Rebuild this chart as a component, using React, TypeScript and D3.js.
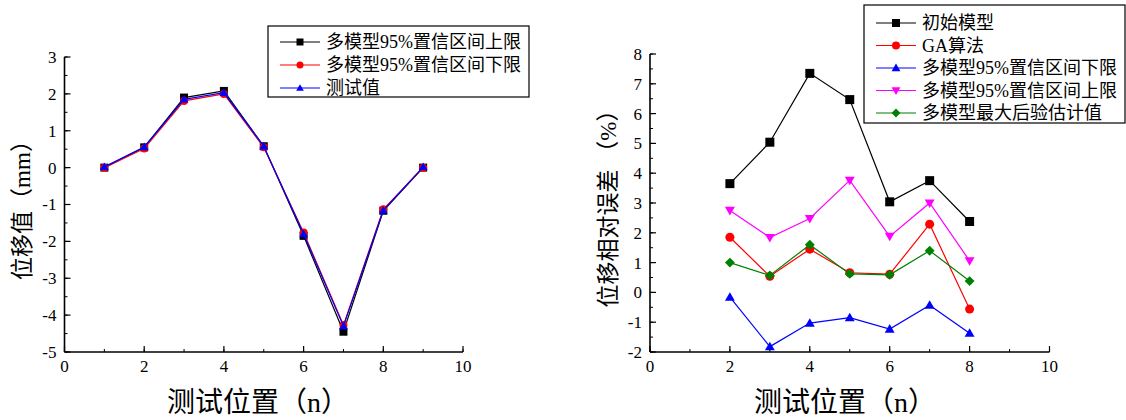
import React from 'react';
import * as d3 from 'd3';

// left panel: displacement (mm) at test positions 1..9
const posLeft = [1, 2, 3, 4, 5, 6, 7, 8, 9];
const upperLeft = [0, 0.55, 1.9, 2.08, 0.58, -1.85, -4.45, -1.17, 0];
const lowerLeft = [0, 0.52, 1.81, 2.0, 0.55, -1.76, -4.27, -1.13, 0];
const testLeft = [0.02, 0.56, 1.85, 2.03, 0.58, -1.8, -4.3, -1.16, 0.02];

// right panel: relative error (%) at test positions 2..8
const posRight = [2, 3, 4, 5, 6, 7, 8];
const initModel = [3.65, 5.04, 7.35, 6.47, 3.04, 3.75, 2.38];
const gaAlgo = [1.85, 0.54, 1.45, 0.66, 0.61, 2.29, -0.56];
const lowerRight = [-0.16, -1.82, -1.03, -0.85, -1.23, -0.43, -1.37];
const upperRight = [2.75, 1.84, 2.48, 3.76, 1.88, 3.0, 1.06];
const mapEstimate = [1.0, 0.57, 1.6, 0.62, 0.59, 1.4, 0.38];

const leftYTicks = [-5, -4, -3, -2, -1, 0, 1, 2, 3];
const rightYTicks = [-2, -1, 0, 1, 2, 3, 4, 5, 6, 7, 8];
const xTicks = [0, 2, 4, 6, 8, 10];

const FONT = '"Liberation Serif", "Times New Roman", "Noto Sans CJK SC", serif';

type Marker = 'square' | 'circle' | 'up' | 'down' | 'diamond';

function MarkerShape({ kind, x, y, size, color }: { kind: Marker; x: number; y: number; size: number; color: string }) {
  const h = size / 2;
  if (kind === 'square') return <rect x={x - h} y={y - h} width={size} height={size} fill={color} />;
  if (kind === 'circle') return <circle cx={x} cy={y} r={h} fill={color} />;
  if (kind === 'up') return <path d={`M${x},${y - h * 1.1}L${x + h * 1.1},${y + h * 0.8}L${x - h * 1.1},${y + h * 0.8}Z`} fill={color} />;
  if (kind === 'down') return <path d={`M${x},${y + h * 1.1}L${x + h * 1.1},${y - h * 0.8}L${x - h * 1.1},${y - h * 0.8}Z`} fill={color} />;
  return <path d={`M${x},${y - h * 1.1}L${x + h * 1.1},${y}L${x},${y + h * 1.1}L${x - h * 1.1},${y}Z`} fill={color} />;
}

type Series = { name: string; xs: number[]; ys: number[]; color: string; marker: Marker };

function Panel({ x0, x1, y0, y1, yDomain, yTicks, series, markerSize, yTitle, yTitleX, xTitleX, legend }: any) {
  const x = d3.scaleLinear().domain([0, 10]).range([x0, x1]);
  const y = d3.scaleLinear().domain(yDomain).range([y1, y0]);
  const minorY = d3.range(yDomain[0], yDomain[1] + 0.001, 0.5);
  const minorX = d3.range(0, 10.001, 1);
  const line = d3.line<[number, number]>().x(d => x(d[0])).y(d => y(d[1]));
  const yMid = (y0 + y1) / 2;
  return (
    <g fontFamily={FONT}>
      {(series as Series[]).map(s => (
        <g key={s.name}>
          <path d={line(s.xs.map((v, i) => [v, s.ys[i]]) as [number, number][]) || ''} fill="none" stroke={s.color} strokeWidth={1.2} />
          {s.xs.map((v, i) => (
            <MarkerShape key={i} kind={s.marker} x={x(v)} y={y(s.ys[i])} size={markerSize} color={s.color} />
          ))}
        </g>
      ))}
      {/* axes */}
      <line x1={x0} x2={x1} y1={y1} y2={y1} stroke="#000" strokeWidth={1.6} />
      <line x1={x0} x2={x0} y1={y0} y2={y1} stroke="#000" strokeWidth={1.6} />
      {minorY.map(v => (
        <line key={'my' + v} x1={x0} x2={x0 + 3} y1={y(v)} y2={y(v)} stroke="#000" strokeWidth={1} />
      ))}
      {yTicks.map((v: number) => (
        <g key={'y' + v}>
          <line x1={x0} x2={x0 + 6} y1={y(v)} y2={y(v)} stroke="#000" strokeWidth={1.2} />
          <text x={x0 - 8} y={y(v)} dy="0.35em" textAnchor="end" fontSize={17}>{v}</text>
        </g>
      ))}
      {minorX.map(v => (
        <line key={'mx' + v} x1={x(v)} x2={x(v)} y1={y1} y2={y1 - 3} stroke="#000" strokeWidth={1} />
      ))}
      {xTicks.map(v => (
        <g key={'x' + v}>
          <line x1={x(v)} x2={x(v)} y1={y1} y2={y1 - 6} stroke="#000" strokeWidth={1.2} />
          <text x={x(v)} y={y1 + 20} textAnchor="middle" fontSize={17}>{v}</text>
        </g>
      ))}
      <text x={xTitleX} y={412} textAnchor="middle" fontSize={28}>测试位置（n）</text>
      <text transform={`translate(${yTitleX},${yMid}) rotate(-90)`} textAnchor="middle" dy="0.35em" fontSize={23}>{yTitle}</text>
      {/* legend */}
      <rect x={legend.x} y={legend.y} width={legend.w} height={legend.h} fill="#fff" stroke="#000" strokeWidth={1.2} />
      {(legend.items as Series[]).map((s, i) => {
        const ly = legend.y + legend.first + i * legend.step;
        return (
          <g key={'l' + i}>
            <line x1={legend.x + 12} x2={legend.x + 52} y1={ly} y2={ly} stroke={s.color} strokeWidth={1.2} />
            <MarkerShape kind={s.marker} x={legend.x + 32} y={ly} size={legend.marker} color={s.color} />
            <text x={legend.x + 58} y={ly} dy="0.36em" fontSize={18}>{s.name}</text>
          </g>
        );
      })}
    </g>
  );
}

export default function App() {
  const leftSeries: Series[] = [
    { name: '多模型95%置信区间上限', xs: posLeft, ys: upperLeft, color: '#000000', marker: 'square' },
    { name: '多模型95%置信区间下限', xs: posLeft, ys: lowerLeft, color: '#ff0000', marker: 'circle' },
    { name: '测试值', xs: posLeft, ys: testLeft, color: '#0000ff', marker: 'up' },
  ];
  const rightSeries: Series[] = [
    { name: '初始模型', xs: posRight, ys: initModel, color: '#000000', marker: 'square' },
    { name: 'GA算法', xs: posRight, ys: gaAlgo, color: '#ff0000', marker: 'circle' },
    { name: '多模型95%置信区间下限', xs: posRight, ys: lowerRight, color: '#0000ff', marker: 'up' },
    { name: '多模型95%置信区间上限', xs: posRight, ys: upperRight, color: '#ff00ff', marker: 'down' },
    { name: '多模型最大后验估计值', xs: posRight, ys: mapEstimate, color: '#008000', marker: 'diamond' },
  ];
  return (
    <svg width={1126} height={420} style={{ position: 'absolute', left: 0, top: 0, background: '#fff' }}>
      <Panel x0={64.5} x1={463} y0={57} y1={352} yDomain={[-5, 3]} yTicks={leftYTicks}
        series={leftSeries} markerSize={8} yTitle="位移值（mm）" yTitleX={22} xTitleX={258}
        legend={{ x: 268, y: 26, w: 261, h: 71, first: 16, step: 23, marker: 7, items: leftSeries }} />
      <Panel x0={650} x1={1049.5} y0={54} y1={352} yDomain={[-2, 8]} yTicks={rightYTicks}
        series={rightSeries} markerSize={9} yTitle="位移相对误差 （%）" yTitleX={608} xTitleX={845}
        legend={{ x: 864, y: 5, w: 261, h: 118, first: 18, step: 22.5, marker: 8, items: rightSeries }} />
    </svg>
  );
}
